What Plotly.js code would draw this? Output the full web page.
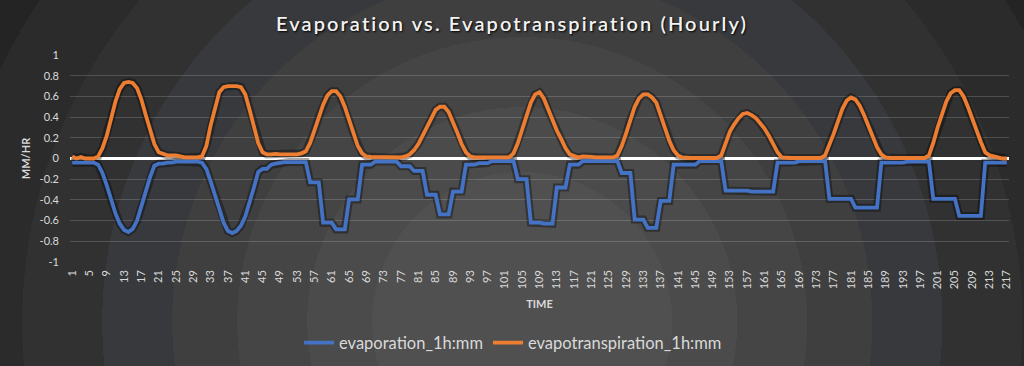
<!DOCTYPE html>
<html><head><meta charset="utf-8">
<script src="https://cdn.plot.ly/plotly-3.0.1.min.js"></script>
<style>
html,body{margin:0;padding:0;width:1024px;height:366px;overflow:hidden;background:#262626;}
#chart{width:1024px;height:366px;
background: radial-gradient(circle at 51% 88%,
 #505050 0px, #505050 150px,
 #4b4b4b 150px, #4b4b4b 215px,
 #454545 215px, #454545 285px,
 #3f3f40 285px, #3f3f40 350px,
 #37393d 350px, #37393d 420px,
 #313131 420px, #313131 500px,
 #2b2b2b 500px, #2b2b2b 580px,
 #242424 580px);}
.gtitle{letter-spacing:2.1px;}
</style></head>
<body><div id="chart"></div>
<script>
// hour index 1..217
const hours = Array.from({length:217}, (_, k) => k + 1);

const evapotranspiration = [
0.02,0.00,0.015,0.0,0.0,0.0,0.02,0.1,0.22,0.39,
0.55,0.67,0.73,0.74,0.73,0.68,0.57,0.42,0.28,0.14,
0.06,0.04,0.03,0.03,0.03,0.02,0.01,0.01,0.01,0.01,
0.02,0.12,0.32,0.5,0.64,0.69,0.7,0.7,0.7,0.69,
0.62,0.47,0.3,0.15,0.06,0.04,0.04,0.045,0.04,0.04,
0.04,0.04,0.04,0.05,0.07,0.15,0.27,0.4,0.52,0.61,
0.65,0.65,0.6,0.5,0.37,0.24,0.12,0.05,0.02,0.015,
0.015,0.01,0.01,0.01,0.01,0.01,0.01,0.02,0.04,0.08,
0.14,0.22,0.31,0.4,0.47,0.5,0.5,0.45,0.36,0.25,
0.14,0.06,0.02,0.01,0.01,0.01,0.01,0.01,0.01,0.01,
0.01,0.01,0.05,0.15,0.28,0.42,0.54,0.62,0.64,0.58,
0.47,0.36,0.27,0.19,0.1,0.04,0.02,0.01,0.02,0.02,
0.015,0.01,0.01,0.01,0.01,0.01,0.03,0.12,0.24,0.38,
0.5,0.58,0.62,0.62,0.59,0.54,0.42,0.3,0.17,0.08,
0.03,0.01,0.005,0.005,0.005,0.005,0.005,0.005,0.005,0.005,
0.03,0.15,0.26,0.33,0.39,0.43,0.44,0.42,0.39,0.34,
0.29,0.22,0.14,0.06,0.01,0.005,0.005,0.005,0.005,0.005,
0.005,0.005,0.005,0.005,0.03,0.13,0.24,0.36,0.48,0.56,
0.59,0.57,0.51,0.42,0.32,0.21,0.11,0.04,0.01,0.005,
0.005,0.005,0.005,0.005,0.005,0.005,0.005,0.005,0.03,0.15,
0.3,0.44,0.55,0.63,0.66,0.66,0.6,0.5,0.38,0.27,
0.16,0.06,0.03,0.02,0.01,0.0,0.0
];

const evaporation = [
-0.04,-0.04,-0.04,-0.04,-0.04,-0.04,-0.06,-0.14,-0.26,-0.4,
-0.53,-0.63,-0.69,-0.71,-0.68,-0.6,-0.47,-0.32,-0.18,-0.07,
-0.05,-0.05,-0.04,-0.04,-0.03,-0.03,-0.03,-0.03,-0.03,-0.03,
-0.04,-0.1,-0.22,-0.36,-0.5,-0.62,-0.7,-0.72,-0.7,-0.65,
-0.56,-0.43,-0.28,-0.13,-0.1,-0.1,-0.06,-0.05,-0.04,-0.035,
-0.035,-0.035,-0.035,-0.035,-0.035,-0.23,-0.23,-0.23,-0.62,-0.62,
-0.62,-0.685,-0.685,-0.685,-0.395,-0.395,-0.395,-0.06,-0.06,-0.06,
-0.03,-0.03,-0.03,-0.03,-0.03,-0.03,-0.075,-0.075,-0.075,-0.12,
-0.12,-0.12,-0.35,-0.35,-0.35,-0.54,-0.54,-0.54,-0.32,-0.32,
-0.32,-0.06,-0.06,-0.06,-0.045,-0.045,-0.045,-0.025,-0.025,-0.025,
-0.025,-0.025,-0.025,-0.2,-0.2,-0.2,-0.62,-0.62,-0.62,-0.63,
-0.63,-0.63,-0.28,-0.28,-0.28,-0.06,-0.06,-0.06,-0.025,-0.025,
-0.025,-0.025,-0.025,-0.025,-0.025,-0.025,-0.025,-0.14,-0.14,-0.14,
-0.59,-0.59,-0.59,-0.67,-0.67,-0.67,-0.41,-0.41,-0.41,-0.06,
-0.06,-0.06,-0.06,-0.06,-0.06,-0.025,-0.025,-0.025,-0.025,-0.025,
-0.025,-0.31,-0.31,-0.31,-0.31,-0.31,-0.31,-0.32,-0.32,-0.32,
-0.32,-0.32,-0.32,-0.04,-0.04,-0.04,-0.04,-0.04,-0.025,-0.025,
-0.025,-0.025,-0.025,-0.025,-0.025,-0.39,-0.39,-0.39,-0.39,-0.39,
-0.39,-0.475,-0.475,-0.475,-0.475,-0.475,-0.475,-0.04,-0.04,-0.04,
-0.04,-0.04,-0.04,-0.03,-0.03,-0.03,-0.03,-0.03,-0.03,-0.39,
-0.39,-0.39,-0.39,-0.39,-0.39,-0.555,-0.555,-0.555,-0.555,-0.555,
-0.555,-0.04,-0.04,-0.04,-0.04,-0.04,-0.04
];

const yTickVals = [1,0.8,0.6,0.4,0.2,0,-0.2,-0.4,-0.6,-0.8,-1];
const yTickText = ["1","0.8","0.6","0.4","0.2","0","-0.2","-0.4","-0.6","-0.8","-1"];
const xTickVals = hours.filter(h => (h - 1) % 4 === 0);
const xTickText = xTickVals.map(String);

const names = ["evaporation_1h:mm", "evapotranspiration_1h:mm"];
const colors = ["#4472C4", "#ED7D31"];
const series = [evaporation, evapotranspiration];

const traces = [];
series.forEach((s, k) => {
  traces.push({x: hours, y: s, type: "scatter", mode: "lines", showlegend: false, hoverinfo: "skip",
    line: {color: "rgba(0,0,0,0.35)", width: 8, shape: "linear"}});
});
series.forEach((s, k) => {
  traces.push({x: hours, y: s, type: "scatter", mode: "lines", name: names[k],
    line: {color: colors[k], width: 3.8, shape: "linear"}});
});

const font = "Lato, 'Open Sans', sans-serif";
const layout = {
  width: 1024, height: 366,
  paper_bgcolor: "rgba(0,0,0,0)", plot_bgcolor: "rgba(0,0,0,0)",
  margin: {l: 70, r: 15, t: 55, b: 104, pad: 0, autoexpand: false},
  title: {text: "Evaporation vs. Evapotranspiration (Hourly)", x: 0.5, xanchor: "center", y: 0.935, yanchor: "middle",
    font: {family: font, size: 20, color: "#f2f2f2", weight: 600, shadow: "1px 1px 2px #000"}},
  xaxis: {range: [0.5, 217.5], tickmode: "array", tickvals: xTickVals, ticktext: xTickText,
    tickangle: -90, showgrid: false, zeroline: false, showline: false, ticks: "",
    tickfont: {family: font, size: 11, color: "#d9d9d9"}, ticklabelstandoff: 5,
    automargin: false,
    title: {text: "TIME", standoff: 11, font: {family: font, size: 11, color: "#d9d9d9", weight: 700}}},
  yaxis: {range: [-1, 1], tickmode: "array", tickvals: yTickVals, ticktext: yTickText,
    showgrid: true, gridcolor: "rgba(255,255,255,0.17)", gridwidth: 1,
    zeroline: true, zerolinecolor: "#ffffff", zerolinewidth: 3, showline: false, ticks: "",
    tickfont: {family: font, size: 11, color: "#d9d9d9"}, ticklabelstandoff: 10,
    automargin: false,
    title: {text: "MM/HR", standoff: 6, font: {family: font, size: 11, color: "#d9d9d9", weight: 700}}},
  legend: {orientation: "h", xref: "container", yref: "container", x: 0.501, xanchor: "center", y: 0.063, yanchor: "middle",
    font: {family: font, size: 16.5, color: "#d9d9d9"}, bgcolor: "rgba(0,0,0,0)",
    itemwidth: 30, traceorder: "normal"},
  showlegend: true
};

Plotly.newPlot("chart", traces, layout, {displayModeBar: false, staticPlot: true});
</script>
</body></html>
